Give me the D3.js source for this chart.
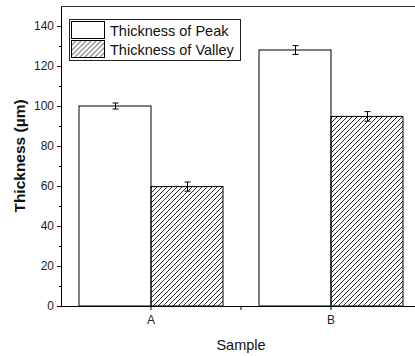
<!DOCTYPE html>
<html>
<head>
<meta charset="utf-8">
<script src="https://cdn.jsdelivr.net/npm/d3@7"></script>
<style>
  body { margin: 0; background: #fff; }
  svg { display: block; font-family: "Liberation Sans", Arial, sans-serif; }
</style>
</head>
<body>
<div id="chart"></div>
<script>
"use strict";

// data
const samples = ["A", "B"];
const seriesNames = ["Thickness of Peak", "Thickness of Valley"];
const peakValues = [100, 128];
const peakErrors = [1.5, 2.2];
const valleyValues = [59.7, 94.8];
const valleyErrors = [2.3, 2.4];
const yTicks = [0, 20, 40, 60, 80, 100, 120, 140];

const width = 415, height = 356;
const margin = { top: 6, left: 61, bottom: 50 };
const plotRight = 421; // plot runs past the picture edge

const svg = d3.select("#chart")
  .append("svg")
  .attr("width", width)
  .attr("height", height);

const defs = svg.append("defs");
defs.append("pattern")
  .attr("id", "hatch")
  .attr("patternUnits", "userSpaceOnUse")
  .attr("width", 5)
  .attr("height", 5)
  .append("path")
  .attr("d", "M-1,6 L6,-1 M-1,1 L1,-1 M4,6 L6,4")
  .attr("stroke", "#111")
  .attr("stroke-width", 0.9);

const x = d3.scaleBand()
  .domain(samples)
  .range([margin.left, plotRight])
  .paddingInner(0.2)
  .paddingOuter(0.1);

const xSub = d3.scaleBand()
  .domain(seriesNames)
  .range([0, x.bandwidth()]);

const y = d3.scaleLinear()
  .domain([0, 150])
  .range([height - margin.bottom, margin.top]);

const rows = samples.map((s, i) => ({
  sample: s,
  bars: [
    { name: seriesNames[0], value: peakValues[i], err: peakErrors[i], fill: "#fff" },
    { name: seriesNames[1], value: valleyValues[i], err: valleyErrors[i], fill: "url(#hatch)" }
  ]
}));

/* bars */
const groups = svg.selectAll(".group")
  .data(rows)
  .enter()
  .append("g")
  .attr("class", "group")
  .attr("transform", d => `translate(${x(d.sample)},0)`);

groups.selectAll("rect")
  .data(d => d.bars)
  .enter()
  .append("rect")
  .attr("x", d => xSub(d.name))
  .attr("y", d => y(d.value))
  .attr("width", xSub.bandwidth())
  .attr("height", d => y(0) - y(d.value))
  .attr("fill", d => d.fill)
  .attr("stroke", "#000")
  .attr("stroke-width", 1);

// error bars
const err = groups.selectAll(".err")
  .data(d => d.bars)
  .enter()
  .append("g")
  .attr("class", "err")
  .attr("stroke", "#000")
  .attr("stroke-width", 1);

const cx = d => Math.round(xSub(d.name) + xSub.bandwidth() / 2) + 0.5;
err.append("line")
  .attr("x1", cx).attr("x2", cx)
  .attr("y1", d => y(d.value + d.err))
  .attr("y2", d => y(d.value - d.err));
err.append("line")
  .attr("x1", d => cx(d) - 3).attr("x2", d => cx(d) + 3)
  .attr("y1", d => y(d.value + d.err)).attr("y2", d => y(d.value + d.err));
err.append("line")
  .attr("x1", d => cx(d) - 3).attr("x2", d => cx(d) + 3)
  .attr("y1", d => y(d.value - d.err)).attr("y2", d => y(d.value - d.err));

/* axes */
const yAxis = d3.axisLeft(y)
  .tickValues(yTicks)
  .tickSize(4)
  .tickPadding(3);
const gy = svg.append("g")
  .attr("transform", `translate(${margin.left},0)`)
  .call(yAxis);
gy.selectAll("text").attr("font-size", 12).attr("fill", "#222").attr("font-family", null);

// minor y ticks
svg.append("g")
  .selectAll("line")
  .data(d3.range(10, 150, 20))
  .enter()
  .append("line")
  .attr("x1", margin.left - 2)
  .attr("x2", margin.left)
  .attr("y1", d => y(d) + 0.5)
  .attr("y2", d => y(d) + 0.5)
  .attr("stroke", "#000");

const xAxis = d3.axisBottom(x)
  .tickSize(4)
  .tickPadding(5);
const gx = svg.append("g")
  .attr("transform", `translate(0,${y(0)})`)
  .call(xAxis);
gx.selectAll("text").attr("font-size", 12).attr("fill", "#222").attr("font-family", null);
gx.select(".domain").attr("d", `M${margin.left - 4},0.5H${plotRight}`);
gy.select(".domain").attr("d", `M0.5,${y(0)}V${margin.top}`);

// tick between groups
gx.append("line")
  .attr("x1", (x("A") + x("B") + x.bandwidth()) / 2)
  .attr("x2", (x("A") + x("B") + x.bandwidth()) / 2)
  .attr("y1", 0).attr("y2", 4)
  .attr("stroke", "#000");

// top frame line
svg.append("line")
  .attr("x1", margin.left)
  .attr("x2", plotRight)
  .attr("y1", margin.top + 0.5)
  .attr("y2", margin.top + 0.5)
  .attr("stroke", "#333");

/* titles */
svg.append("text")
  .attr("transform", `translate(25,${(y(0) + margin.top) / 2}) rotate(-90)`)
  .attr("text-anchor", "middle")
  .attr("font-size", 15.5)
  .attr("font-weight", "bold")
  .attr("fill", "#111")
  .text("Thickness (µm)");

svg.append("text")
  .attr("x", 241)
  .attr("y", 350)
  .attr("text-anchor", "middle")
  .attr("font-size", 14.5)
  .attr("fill", "#111")
  .text("Sample");

/* legend */
const legend = svg.append("g").attr("transform", "translate(69.5,19.5)");
legend.append("rect")
  .attr("width", 171)
  .attr("height", 41)
  .attr("fill", "#fff")
  .attr("stroke", "#222");

const item = legend.selectAll(".item")
  .data([{ name: seriesNames[0], fill: "#fff" }, { name: seriesNames[1], fill: "url(#hatch)" }])
  .enter()
  .append("g")
  .attr("class", "item")
  .attr("transform", (d, i) => `translate(2,${2 + i * 19})`);

item.append("rect")
  .attr("width", 33)
  .attr("height", 17)
  .attr("fill", d => d.fill)
  .attr("stroke", "#000");

item.append("text")
  .attr("x", 38.5)
  .attr("y", 14)
  .attr("font-size", 14.5)
  .attr("fill", "#111")
  .text(d => d.name);
</script>
</body>
</html>
